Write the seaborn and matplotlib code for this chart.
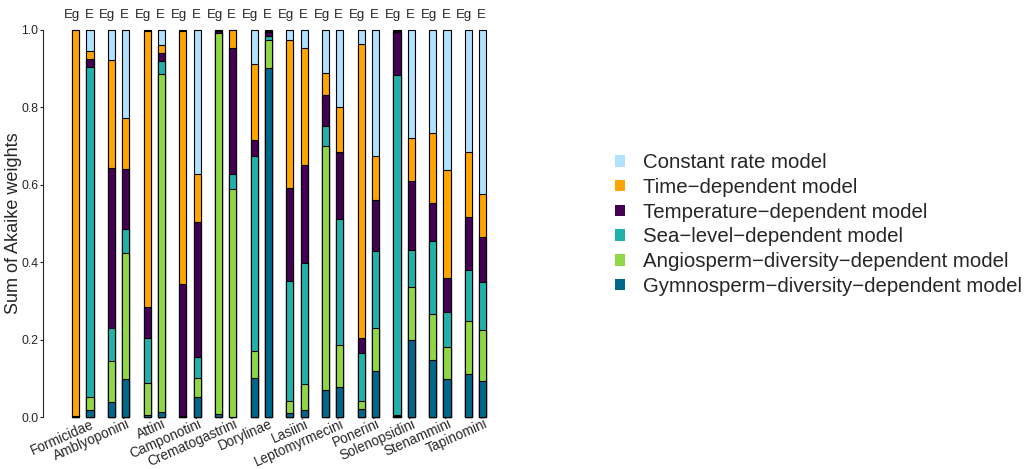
import numpy as np
import pandas as pd
import matplotlib
matplotlib.use('Agg')
import matplotlib.pyplot as plt
from matplotlib.patches import Patch
import seaborn as sns

groups = ['Formicidae', 'Amblyoponini', 'Attini', 'Camponotini', 'Crematogastrini',
          'Dorylinae', 'Lasiini', 'Leptomyrmecini', 'Ponerini', 'Solenopsidini',
          'Stenammini', 'Tapinomini']
sets = ['Eg', 'E']

# Akaike weights per bar, order: Formicidae Eg, Formicidae E, Amblyoponini Eg, ...
gymno = [0.000, 0.019, 0.040, 0.099, 0.004, 0.013, 0.003, 0.052, 0.007, 0.001, 0.101, 0.902,
         0.010, 0.019, 0.070, 0.077, 0.021, 0.119, 0.003, 0.199, 0.148, 0.098, 0.111, 0.092]
angio = [0.000, 0.033, 0.105, 0.326, 0.084, 0.874, 0.000, 0.050, 0.984, 0.589, 0.069, 0.072,
         0.032, 0.066, 0.631, 0.109, 0.021, 0.112, 0.001, 0.136, 0.117, 0.084, 0.136, 0.133]
sealevel = [0.000, 0.852, 0.086, 0.061, 0.117, 0.034, 0.000, 0.052, 0.002, 0.037, 0.504, 0.011,
            0.310, 0.312, 0.050, 0.326, 0.123, 0.199, 0.881, 0.096, 0.191, 0.089, 0.133, 0.125]
temperature = [0.003, 0.021, 0.413, 0.156, 0.080, 0.020, 0.340, 0.349, 0.005, 0.327, 0.042, 0.009,
               0.240, 0.254, 0.081, 0.173, 0.040, 0.130, 0.109, 0.178, 0.098, 0.087, 0.138, 0.114]
time_dep = [0.997, 0.022, 0.279, 0.131, 0.713, 0.020, 0.654, 0.126, 0.002, 0.046, 0.196, 0.003,
            0.381, 0.303, 0.056, 0.117, 0.759, 0.114, 0.003, 0.112, 0.181, 0.281, 0.168, 0.112]
constant = [0.000, 0.053, 0.077, 0.227, 0.002, 0.039, 0.003, 0.371, 0.000, 0.000, 0.088, 0.003,
            0.027, 0.046, 0.112, 0.198, 0.036, 0.326, 0.003, 0.279, 0.265, 0.361, 0.314, 0.424]

models = ['Gymnosperm\u2212diversity\u2212dependent model',
          'Angiosperm\u2212diversity\u2212dependent model',
          'Sea\u2212level\u2212dependent model',
          'Temperature\u2212dependent model',
          'Time\u2212dependent model',
          'Constant rate model']
colors = ['#00688b', '#8fd744', '#20b2aa', '#440154', '#ffa500', '#b0e2ff']

df = pd.DataFrame({'group': np.repeat(groups, 2), 'set': sets * len(groups)})
weights = np.array([gymno, angio, sealevel, temperature, time_dep, constant])
tops = np.cumsum(weights, axis=0)

sns.set_style('ticks')
plt.rcParams['font.family'] = ['Liberation Sans', 'DejaVu Sans']

fig = plt.figure(figsize=(10.29, 4.69), dpi=100)
ax = fig.add_axes([43 / 1029, 52 / 469, 452 / 1029, 387 / 469])

# draw cumulative bars from top layer down so each layer covers the one above
for k in range(len(models) - 1, -1, -1):
    d = df.copy()
    d['top'] = tops[k]
    sns.barplot(data=d, x='group', y='top', hue='set', order=groups, hue_order=sets,
                palette={'Eg': colors[k], 'E': colors[k]}, saturation=1, width=0.8, gap=0.5,
                edgecolor='black', linewidth=0.8, errorbar=None, legend=False, ax=ax)

for p in ax.patches:
    p.set_clip_on(False)

ax.set_xlim(-1.116, 11.545)
ax.set_ylim(0, 1)
ax.set_yticks([0, 0.2, 0.4, 0.6, 0.8, 1.0])
ax.set_yticklabels(['0.0', '0.2', '0.4', '0.6', '0.8', '1.0'])
ax.tick_params(axis='y', labelsize=8.8, length=2.5, width=0.8, pad=1)
ax.set_ylabel('Sum of Akaike weights', fontsize=13)
ax.yaxis.label.set_verticalalignment('center')
ax.yaxis.set_label_coords(-0.066, 0.5)
ax.set_xlabel('')

idx = np.arange(len(groups))
ax.set_xticks(idx + 0.22)
ax.set_xticklabels(groups, rotation=24, ha='right', va='top', rotation_mode='anchor', fontsize=9.8)
ax.tick_params(axis='x', length=0, pad=0)

for s in ['top', 'right', 'bottom']:
    ax.spines[s].set_visible(False)
ax.spines['left'].set_linewidth(0.8)

for i in idx:
    ax.text(i - 0.31, 1.04, 'Eg', ha='center', va='center', fontsize=9.5, transform=ax.get_xaxis_transform())
    ax.text(i + 0.17, 1.04, 'E', ha='center', va='center', fontsize=9.5, transform=ax.get_xaxis_transform())

handles = [Patch(facecolor=colors[k], edgecolor='none') for k in range(len(models) - 1, -1, -1)]
labels = [models[k] for k in range(len(models) - 1, -1, -1)]
fig.legend(handles, labels, loc='upper left', bbox_to_anchor=(607 / 1029, 1 - 145 / 469),
           frameon=False, fontsize=14.7, handlelength=0.5, handleheight=0.5,
           handletextpad=0.85, labelspacing=0.28, borderaxespad=0)

fig.savefig('out.png', dpi=100)
